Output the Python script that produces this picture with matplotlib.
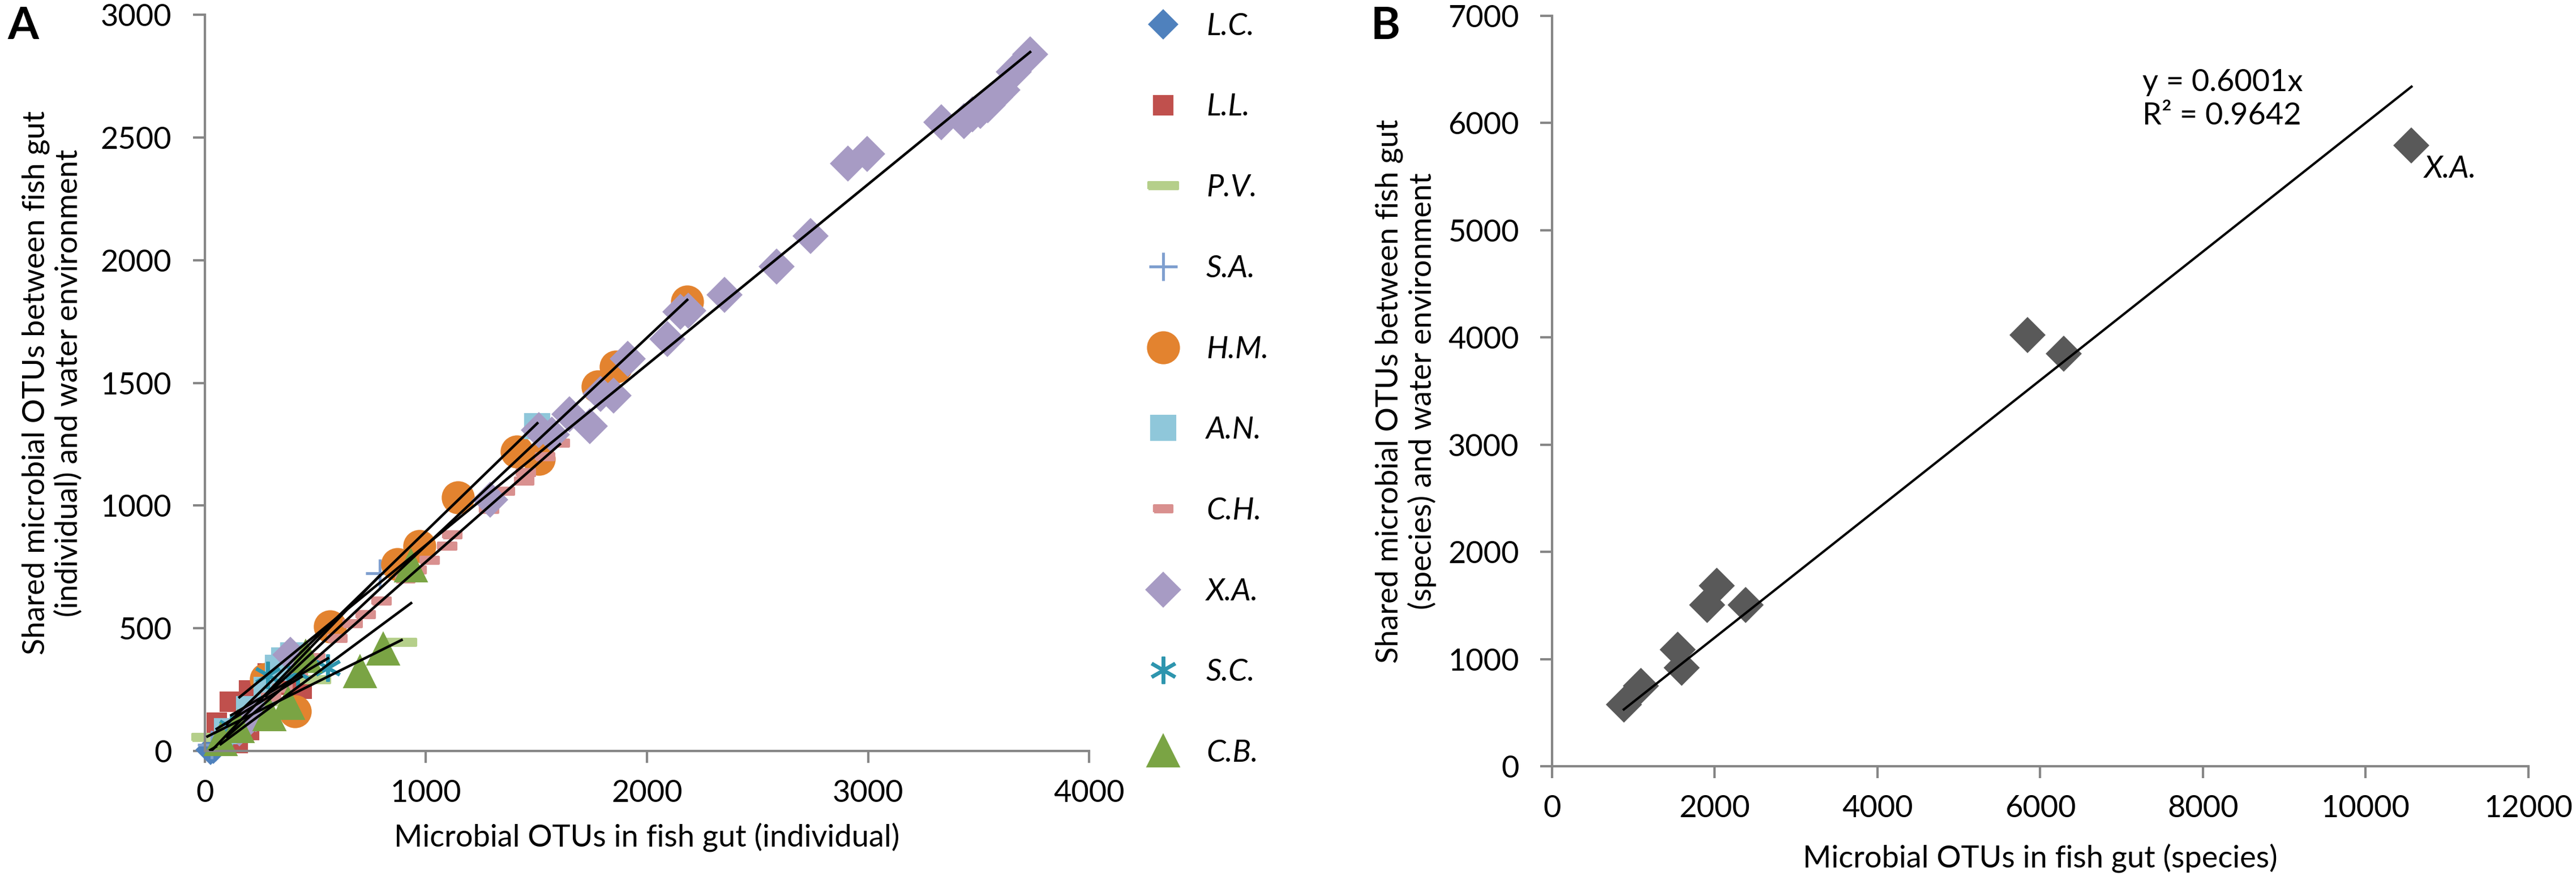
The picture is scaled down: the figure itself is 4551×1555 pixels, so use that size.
import numpy as np
import matplotlib
matplotlib.use("Agg")
import matplotlib.pyplot as plt
from matplotlib.lines import Line2D

plt.rcParams['font.family'] = ['Lato', 'DejaVu Sans']
plt.rcParams['font.size'] = 13

# ---- panel A data: (individual OTUs, shared OTUs) per fish species ----
species = ["L.C.", "L.L.", "P.V.", "S.A.", "H.M.", "A.N.", "C.H.", "X.A.", "S.C.", "C.B."]

lc_x = [25, 38, 50]
lc_y = [5, 9, 18]
ll_x = [54, 90, 114, 148, 200, 200, 250, 284, 350, 438]
ll_y = [116, 60, 201, 32, 85, 247, 200, 316, 270, 254]
pv_x = [12, 150, 300, 500, 890]
pv_y = [55, 110, 200, 290, 443]
sa_x = [30, 120, 250, 792]
sa_y = [25, 80, 180, 724]
hm_x = [276, 408, 566, 872, 971, 1146, 1410, 1512, 1777, 1860, 2182]
hm_y = [293, 162, 508, 762, 835, 1032, 1221, 1189, 1484, 1566, 1832]
an_x = [100, 200, 280, 330, 360, 400, 1504]
an_y = [80, 170, 250, 340, 370, 390, 1324]
ch_x = [100, 150, 200, 240, 300, 350, 420, 500, 600, 668, 728, 800, 907, 958,
        1018, 1095, 1120, 1287, 1358, 1444, 1453, 1540, 1606]
ch_y = [60, 90, 130, 160, 220, 255, 320, 380, 460, 520, 555, 610, 701, 739,
        778, 835, 882, 985, 1059, 1101, 1135, 1200, 1255]
xa_x = [157, 230, 387, 1291, 1512, 1570, 1649, 1742, 1789, 1849, 1913, 2092,
        2151, 2186, 2352, 2586, 2740, 2910, 2997, 3332, 3435, 3473, 3507, 3541,
        3575, 3609, 3659, 3733]
xa_y = [92, 150, 393, 1024, 1308, 1290, 1371, 1324, 1455, 1447, 1597, 1678,
        1789, 1793, 1859, 1974, 2098, 2393, 2432, 2562, 2566, 2594, 2609, 2632,
        2663, 2693, 2768, 2839]
sc_x = [120, 285, 420, 557]
sc_y = [95, 308, 320, 339]
cb_x = [72, 150, 293, 378, 455, 702, 808, 933]
cb_y = [47, 100, 147, 194, 385, 324, 416, 755]

# ---- panel B data: species level ----
b_x = [882, 1091, 1545, 1591, 1909, 2027, 2382, 5845, 6291, 10564]
b_y = [576, 749, 1089, 916, 1503, 1686, 1503, 4021, 3848, 5790]
b_slope = 0.6001
b_r2 = 0.9642

# marker styles (Excel-like)
rect_wide = [(-1, -0.37), (1, -0.37), (1, 0.37), (-1, 0.37), (-1, -0.37)]
rect_thin = [(-1, -0.22), (1, -0.22), (1, 0.22), (-1, 0.22), (-1, -0.22)]
styles = {
    "L.C.": dict(marker='D', ms=8, color='#4F81BD'),
    "L.L.": dict(marker='s', ms=7.5, color='#C0504D'),
    "P.V.": dict(marker=rect_thin, ms=12.5, color='#B5CF8A'),
    "S.A.": dict(marker='+', ms=12, color='#7F9FCF', mew=1.2),
    "H.M.": dict(marker='o', ms=13, color='#E3832F'),
    "A.N.": dict(marker='s', ms=10, color='#8FC7DA'),
    "C.H.": dict(marker=rect_wide, ms=7.5, color='#D9908F'),
    "X.A.": dict(marker='D', ms=10, color='#A79BC4'),
    "S.C.": dict(marker=(6, 2, 0), ms=11.5, color='#2E95AE', mew=1.5),
    "C.B.": dict(marker='^', ms=13, color='#7AA444'),
}
series = {
    "L.C.": (lc_x, lc_y), "L.L.": (ll_x, ll_y), "P.V.": (pv_x, pv_y),
    "S.A.": (sa_x, sa_y), "H.M.": (hm_x, hm_y), "A.N.": (an_x, an_y),
    "C.H.": (ch_x, ch_y), "X.A.": (xa_x, xa_y), "S.C.": (sc_x, sc_y),
    "C.B.": (cb_x, cb_y),
}

fig = plt.figure(figsize=(4551 / 300, 1555 / 300), dpi=300)
axA = fig.add_axes([0.0795, 0.1466, 0.3433, 0.8367])
axB = fig.add_axes([0.6025, 0.1293, 0.379, 0.8527])

spine_col = '#868686'
for ax in (axA, axB):
    for s in ('top', 'right'):
        ax.spines[s].set_visible(False)
    for s in ('left', 'bottom'):
        ax.spines[s].set_color(spine_col)
        ax.spines[s].set_linewidth(1.0)
    ax.tick_params(direction='out', length=5, width=1.0, color=spine_col,
                   labelsize=13)
    ax.tick_params(axis='y', pad=9)
    ax.tick_params(axis='x', pad=7)

# panel A: markers + linear trendlines
handles = []
for name in species:
    x, y = series[name]
    st = dict(styles[name])
    mk = st.pop('marker')
    axA.plot(x, y, linestyle='none', marker=mk, markeredgecolor=st['color'],
             markerfacecolor=st['color'], zorder=2, clip_on=False, **st)
    handles.append(Line2D([], [], linestyle='none', marker=mk,
                          markeredgecolor=st['color'],
                          markerfacecolor=st['color'], **st))
for name in species:
    x, y = series[name]
    k, b = np.polyfit(x, y, 1)
    xs = np.array([min(x), max(x)])
    axA.plot(xs, k * xs + b, color='black', lw=1.1, zorder=3)

axA.set_xlim(0, 4000)
axA.set_ylim(0, 3000)
axA.set_xticks(range(0, 4001, 1000))
axA.set_yticks(range(0, 3001, 500))
axA.set_xlabel("Microbial OTUs in fish gut (individual)", fontsize=13)
axA.set_ylabel("Shared microbial OTUs between fish gut\n(individual) and water environment",
               fontsize=13, linespacing=1.2)
axA.xaxis.set_label_coords(0.5, -0.097)
axA.yaxis.set_label_coords(-0.138, 0.5)

fig.legend(handles, species, loc='upper left', bbox_to_anchor=(0.4397, 0.986),
           frameon=False, prop={'style': 'italic', 'size': 13},
           handlelength=2.0, handletextpad=0.4, labelspacing=1.73,
           borderpad=0, borderaxespad=0)

# panel B
axB.plot(b_x, b_y, linestyle='none', marker='D', ms=10, color='#595959', zorder=2)
xs = np.array([min(b_x), max(b_x)])
axB.plot(xs, b_slope * xs, color='black', lw=1.0, zorder=3)
axB.set_xlim(0, 12000)
axB.set_ylim(0, 7000)
axB.set_xticks(range(0, 12001, 2000))
axB.set_yticks(range(0, 7001, 1000))
axB.set_xlabel("Microbial OTUs in fish gut (species)", fontsize=13)
axB.set_ylabel("Shared microbial OTUs between fish gut\n(species) and water environment",
               fontsize=13, linespacing=1.2)
axB.xaxis.set_label_coords(0.5, -0.103)
axB.yaxis.set_label_coords(-0.118, 0.5)
axB.text(0.6048, 0.93, "y = %.4fx\nR² = %.4f" % (b_slope, b_r2),
         transform=axB.transAxes, fontsize=13, va='top', ha='left',
         linespacing=1.25)
axB.annotate("X.A.", xy=(b_x[-1], b_y[-1]), xytext=(5.5, -10),
             textcoords='offset points', fontsize=13, style='italic',
             va='center', ha='left')

fig.text(0.003, 0.993, "A", fontsize=19, fontweight='bold', va='top', ha='left')
fig.text(0.532, 0.993, "B", fontsize=19, fontweight='bold', va='top', ha='left')

fig.savefig("out.png", dpi=300)
